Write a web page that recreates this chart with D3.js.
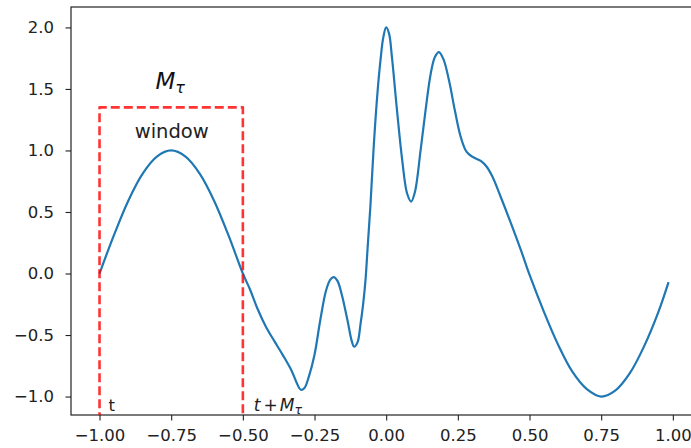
<!DOCTYPE html>
<html>
<head>
<meta charset="utf-8">
<script src="https://cdn.jsdelivr.net/npm/d3@7"></script>
<style>
  html, body { margin: 0; padding: 0; background: #fff; }
  svg { display: block; font-family: 'DejaVu Sans', sans-serif; }
</style>
</head>
<body>
<div id="chart"></div>
<script>
// signal
const xValues = [
  -1.0, -0.95, -0.9, -0.85, -0.8, -0.75, -0.7, -0.65, -0.6, -0.55, -0.5,
  -0.475, -0.45, -0.42, -0.39, -0.36, -0.33, -0.31, -0.298, -0.285, -0.27, -0.25,
  -0.23, -0.21, -0.195, -0.183, -0.17, -0.155, -0.135, -0.12, -0.112, -0.1,
  -0.09, -0.08, -0.072, -0.065, -0.055, -0.043, -0.03, -0.02, -0.01, 0.0,
  0.01, 0.02, 0.038, 0.056, 0.073, 0.087, 0.1, 0.12, 0.137, 0.155, 0.17,
  0.184, 0.2, 0.22, 0.24, 0.26, 0.28, 0.3, 0.33, 0.35, 0.37, 0.4, 0.435,
  0.47, 0.5, 0.55, 0.6, 0.65, 0.7, 0.75, 0.8, 0.85, 0.9, 0.95, 0.985,
];
const yValues = [
  0.0, 0.31, 0.59, 0.81, 0.95, 1.0, 0.95, 0.81, 0.59, 0.31, 0.0,
  -0.13, -0.28, -0.43, -0.55, -0.665, -0.79, -0.9, -0.945, -0.93, -0.84, -0.66,
  -0.38, -0.14, -0.05, -0.03, -0.06, -0.17, -0.38, -0.55, -0.595, -0.56,
  -0.42, -0.24, -0.05, 0.2, 0.55, 1.05, 1.48, 1.73, 1.92, 2.0,
  1.95, 1.76, 1.32, 0.92, 0.65, 0.585, 0.66, 1.0, 1.32, 1.62, 1.76,
  1.8, 1.74, 1.56, 1.32, 1.11, 0.99, 0.95, 0.915, 0.87, 0.79, 0.62, 0.41,
  0.19, -0.01, -0.31, -0.58, -0.8, -0.94, -1.0, -0.95, -0.81, -0.59, -0.31, -0.07,
];

const xTicks = [-1.0, -0.75, -0.5, -0.25, 0.0, 0.25, 0.5, 0.75, 1.0];
const yTicks = [-1.0, -0.5, 0.0, 0.5, 1.0, 1.5, 2.0];

// window box: from t to t + M_tau, top edge at this height
const windowX = [-1.0, -0.5];
const windowTop = 1.35;

const width = 691;
const height = 448;
const plot = { left: 71, right: 698.5, top: 7, bottom: 415 };

const fmtX = (d) => d3.format('.2f')(d).replace('-', '\u2212');
const fmtY = (d) => d3.format('.1f')(d).replace('-', '\u2212');

const svg = d3
  .select('#chart')
  .append('svg')
  .attr('width', width)
  .attr('height', height);

const x = d3.scaleLinear().domain([-1.0995, 1.0895]).range([plot.left, plot.right]);
const y = d3.scaleLinear().domain([-1.15, 2.166]).range([plot.bottom, plot.top]);

svg
  .append('clipPath')
  .attr('id', 'plot-clip')
  .append('rect')
  .attr('x', plot.left)
  .attr('y', plot.top)
  .attr('width', plot.right - plot.left)
  .attr('height', plot.bottom - plot.top);

// axes
const xAxis = svg
  .append('g')
  .attr('transform', `translate(0,${plot.bottom})`)
  .call(d3.axisBottom(x).tickValues(xTicks).tickFormat(fmtX).tickSize(5.5).tickPadding(5));

const yAxis = svg
  .append('g')
  .attr('transform', `translate(${plot.left},0)`)
  .call(d3.axisLeft(y).tickValues(yTicks).tickFormat(fmtY).tickSize(5.5).tickPadding(11.5));

[xAxis, yAxis].forEach((g) => {
  g.select('.domain').remove();
  g.selectAll('.tick line').attr('stroke', '#222').attr('stroke-width', 1.1);
  g.selectAll('.tick text')
    .attr('fill', '#222')
    .style('font-family', "'DejaVu Sans', sans-serif")
    .style('font-size', '16.5px');
});
xAxis.selectAll('.tick text').attr('dy', '0.95em');

// spines
svg
  .append('rect')
  .attr('x', plot.left)
  .attr('y', plot.top)
  .attr('width', plot.right - plot.left)
  .attr('height', plot.bottom - plot.top)
  .attr('fill', 'none')
  .attr('stroke', '#222')
  .attr('stroke-width', 1.2);

const points = xValues.map((d, i) => [d, yValues[i]]);

svg
  .append('path')
  .datum(points)
  .attr('clip-path', 'url(#plot-clip)')
  .attr('fill', 'none')
  .attr('stroke', '#1f77b4')
  .attr('stroke-width', 2.2)
  .attr('stroke-linejoin', 'round')
  .attr('d', d3.line().x((d) => x(d[0])).y((d) => y(d[1])).curve(d3.curveCatmullRom.alpha(0.5)));

// dashed window
const boxPts = [
  [windowX[0], -1.2],
  [windowX[0], windowTop],
  [windowX[1], windowTop],
  [windowX[1], -1.2],
];
svg
  .append('path')
  .datum(boxPts)
  .attr('clip-path', 'url(#plot-clip)')
  .attr('fill', 'none')
  .attr('stroke', 'rgba(255,0,0,0.8)')
  .attr('stroke-width', 2.6)
  .attr('stroke-dasharray', '9,4')
  .attr('stroke-linejoin', 'round')
  .attr('d', d3.line().x((d) => x(d[0])).y((d) => y(d[1])));

// labels
const midX = x((windowX[0] + windowX[1]) / 2);

const mLabel = svg
  .append('text')
  .attr('x', midX - 1)
  .attr('y', 89)
  .attr('text-anchor', 'middle')
  .attr('fill', '#111')
  .style('font-size', '23px');
mLabel.append('tspan').style('font-style', 'italic').text('M');
mLabel.append('tspan').style('font-style', 'italic').style('font-size', '16px').attr('dy', 4).text('τ');

svg
  .append('text')
  .attr('x', midX + 0.5)
  .attr('y', 137.5)
  .attr('text-anchor', 'middle')
  .attr('fill', '#222')
  .style('font-size', '19.5px')
  .text('window');

svg
  .append('text')
  .attr('x', x(windowX[0]) + 9)
  .attr('y', 411)
  .attr('fill', '#222')
  .style('font-size', '16.5px')
  .text('t');

const endLabel = svg
  .append('text')
  .attr('x', x(windowX[1]) + 11)
  .attr('y', 411)
  .attr('fill', '#222')
  .style('font-size', '17px');
endLabel.append('tspan').style('font-style', 'italic').text('t');
endLabel.append('tspan').attr('dx', 3).text('+');
endLabel.append('tspan').attr('dx', 2).style('font-style', 'italic').text('M');
endLabel.append('tspan').style('font-style', 'italic').style('font-size', '12.5px').attr('dy', 3).text('τ');
</script>
</body>
</html>
